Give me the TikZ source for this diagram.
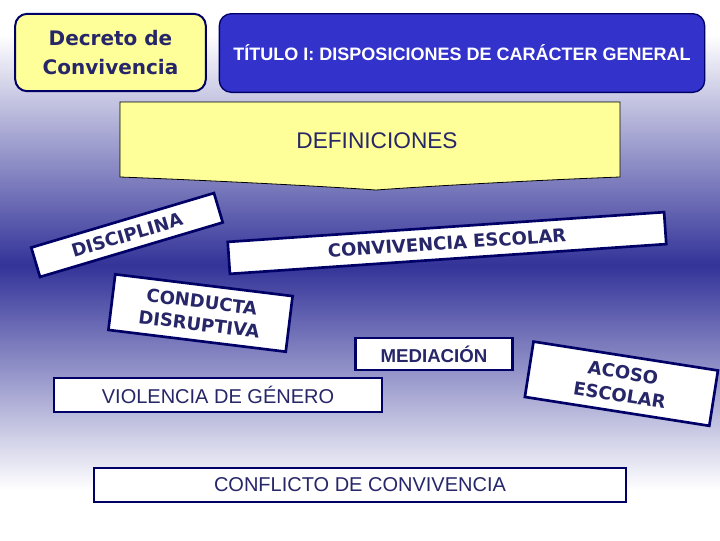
\documentclass[tikz,border=0pt]{standalone}
\usepackage{fontspec}
\setmainfont{Liberation Sans}
\newfontfamily\widesans{DejaVu Sans}
\usepackage{xcolor}
\definecolor{boxnavy}{RGB}{0,0,102}
\definecolor{textnavy}{RGB}{38,38,104}
\definecolor{titleblue}{RGB}{51,51,204}
\definecolor{notepaper}{RGB}{255,255,153}
\definecolor{bgdark}{RGB}{51,51,153}

\begin{document}
\begin{tikzpicture}[x=0.75pt,y=-0.75pt,
  header/.style={rectangle,rounded corners=9pt,draw=boxnavy,inner sep=0pt,
                 align=center},
  tag/.style={rectangle,draw=boxnavy,line width=2pt,fill=white,text=textnavy,
              inner sep=0pt,align=center},
  tilted/.style={tag,font=\widesans\bfseries\fontsize{13.5}{17}\selectfont},
  flat/.style={tag,font=\fontsize{15}{18}\selectfont}
]
\useasboundingbox (0,0) rectangle (720,540);
\fill[white] (0,0) rectangle (720,540);
\shade[top color=white,bottom color=bgdark] (0,35) rectangle (720,265);
\shade[top color=bgdark,bottom color=white] (0,265) rectangle (720,490);

\node[header,fill=notepaper,line width=1.5pt,minimum width=143pt,
      minimum height=58pt,text=textnavy,
      font=\widesans\bfseries\fontsize{15}{21.75}\selectfont]
      (decreto) at (110.5,52.5) {Decreto de\\Convivencia};
\node[header,fill=titleblue,line width=1pt,minimum width=364pt,
      minimum height=59pt,text=white,font=\bfseries\fontsize{13.5}{16}\selectfont]
      (titulo) at (462,53) {TÍTULO I: DISPOSICIONES DE CARÁCTER GENERAL};

\draw[line width=0.6pt,fill=notepaper] (120,102) -- (620,102) -- (620,177)
  .. controls (540,180) and (430,186) .. (376,190)
  .. controls (320,186) and (200,180) .. (120,177) -- cycle;
\node[text=textnavy,font=\fontsize{17}{20}\selectfont] (defs) at (377,141) {DEFINICIONES};

\node[tilted,rotate=16.6,minimum width=143pt,minimum height=23pt]
      (disciplina) at (127,235) {DISCIPLINA};
\node[tilted,rotate=3.9,minimum width=328pt,minimum height=24pt]
      (convivencia) at (447,243) {CONVIVENCIA ESCOLAR};
\node[tilted,rotate=-7,minimum width=134pt,minimum height=42pt]
      (conducta) at (200.5,313) {CONDUCTA\\DISRUPTIVA};
\node[tilted,rotate=-8.9,minimum width=140pt,minimum height=42pt]
      (acoso) at (621.4,383.7) {ACOSO\\ESCOLAR};

\node[tag,font=\bfseries\fontsize{14}{16}\selectfont,minimum width=118pt,
      minimum height=24pt] (mediacion) at (434,354) {MEDIACIÓN};
\node[flat,minimum width=246pt,minimum height=25.5pt]
      (violencia) at (218,395) {VIOLENCIA DE GÉNERO};
\node[flat,minimum width=399pt,minimum height=25.5pt]
      (conflicto) at (360,485) {CONFLICTO DE CONVIVENCIA};
\end{tikzpicture}
\end{document}
